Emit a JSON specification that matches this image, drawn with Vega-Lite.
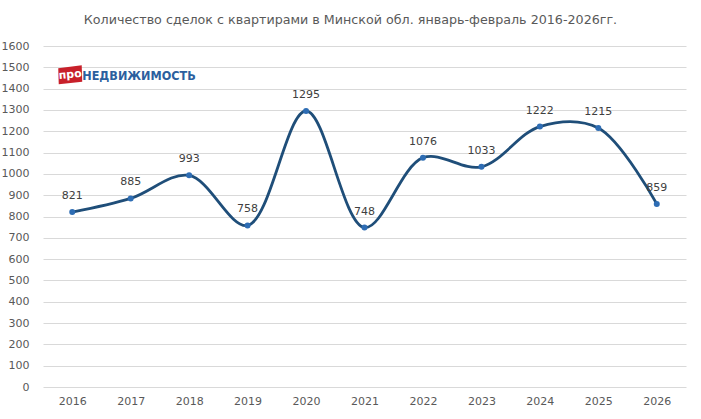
{
  "$schema": "https://vega.github.io/schema/vega-lite/v6.json",
  "autosize": "none",
  "width": 643,
  "height": 341,
  "padding": {"left": 43, "top": 46, "right": 15, "bottom": 32},
  "background": "white",
  "title": {
    "text": "Количество сделок с квартирами в Минской обл. январь-февраль 2016-2026гг.",
    "font": "DejaVu Sans",
    "fontSize": 12.7,
    "fontWeight": "normal",
    "color": "#595959",
    "offset": 13,
    "dx": -14
  },
  "config": {
    "view": {"stroke": null},
    "axis": {
      "labelFont": "DejaVu Sans",
      "labelFontSize": 11,
      "labelColor": "#595959",
      "domain": false,
      "ticks": false,
      "title": null
    }
  },
  "datasets": {
    "deals": [
      {"year": "2016", "count": 821},
      {"year": "2017", "count": 885},
      {"year": "2018", "count": 993},
      {"year": "2019", "count": 758},
      {"year": "2020", "count": 1295},
      {"year": "2021", "count": 748},
      {"year": "2022", "count": 1076},
      {"year": "2023", "count": 1033},
      {"year": "2024", "count": 1222},
      {"year": "2025", "count": 1215},
      {"year": "2026", "count": 859}
    ],
    "logo": [
      {"year": "2016", "count": 1465, "pro": "про", "name": "НЕДВИЖИМОСТЬ"}
    ]
  },
  "data": {"name": "deals"},
  "encoding": {
    "x": {
      "field": "year",
      "type": "ordinal",
      "scale": {"type": "point", "padding": 0.5},
      "axis": {"labelAngle": 0, "grid": false, "labelPadding": 8}
    },
    "y": {
      "field": "count",
      "type": "quantitative",
      "scale": {"domain": [0, 1600]},
      "axis": {"tickCount": 16, "format": "d", "gridColor": "#d9d9d9", "labelPadding": 14}
    }
  },
  "layer": [
    {
      "mark": {"type": "line", "interpolate": "catmull-rom", "color": "#1f4e79", "strokeWidth": 2.8}
    },
    {
      "mark": {"type": "circle", "color": "#2e6db4", "opacity": 1, "size": 36}
    },
    {
      "mark": {"type": "text", "dy": -16, "font": "DejaVu Sans", "fontSize": 11, "color": "#404040"},
      "encoding": {"text": {"field": "count", "type": "quantitative"}}
    },
    {
      "data": {"name": "logo"},
      "mark": {
        "type": "point",
        "shape": "M-1.2,-0.65L1.15,-0.95L1.2,0.7L-1.15,0.95Z",
        "filled": true,
        "color": "#c8202a",
        "opacity": 1,
        "size": 400,
        "xOffset": -2
      }
    },
    {
      "data": {"name": "logo"},
      "mark": {"type": "text", "font": "DejaVu Sans", "fontSize": 11, "fontWeight": "bold", "color": "white", "angle": -5, "dx": -2, "dy": 0},
      "encoding": {"text": {"field": "pro"}}
    },
    {
      "data": {"name": "logo"},
      "mark": {"type": "text", "align": "left", "font": "DejaVu Sans Condensed", "fontSize": 12.5, "fontWeight": "bold", "color": "#2b5f9e", "dx": 10, "dy": 1},
      "encoding": {"text": {"field": "name"}}
    }
  ]
}
